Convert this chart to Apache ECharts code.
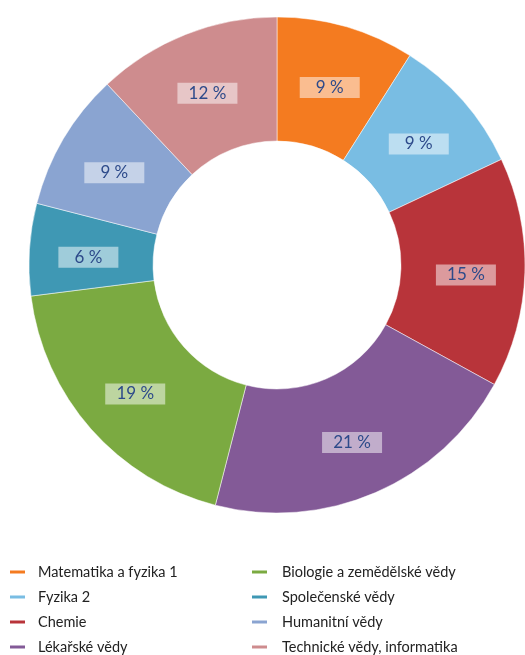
<!DOCTYPE html>
<html>
<head>
<meta charset="utf-8">
<script src="https://cdn.jsdelivr.net/npm/echarts@6/dist/echarts.min.js"></script>
<style>
  html, body { margin: 0; padding: 0; background: #fff; }
  #chart { width: 525px; height: 655px; }
</style>
</head>
<body>
<div id="chart"></div>
<script>
// obory a podíly (%)
const categories = [
  'Matematika a fyzika 1',
  'Fyzika 2',
  'Chemie',
  'Lékařské vědy',
  'Biologie a zemědělské vědy',
  'Společenské vědy',
  'Humanitní vědy',
  'Technické vědy, informatika'
];
const shares = [9, 9, 15, 21, 19, 6, 9, 12];
const colors = ['#f47b20', '#79bde3', '#b8343a', '#835a97', '#7baa41', '#3f98b4', '#8aa4d1', '#ce8c8e'];

const font = 'Lato, "DejaVu Sans", sans-serif';

function legendCol(left, top, names, textPad) {
  return {
    orient: 'vertical',
    left: left,
    top: top,
    height: 140,
    padding: 0,
    icon: 'rect',
    itemWidth: 15,
    itemHeight: 3,
    itemGap: 9,
    itemStyle: { borderWidth: 0 },
    textStyle: { fontFamily: font, fontSize: 14.5, color: '#222', lineHeight: 16, padding: [0, 0, 0, textPad] },
    selectedMode: false,
    data: names
  };
}

const chart = echarts.init(document.getElementById('chart'));
chart.setOption({
  animation: false,
  color: colors,
  legend: [
    legendCol(10, 564, categories.slice(0, 4), 8),
    legendCol(252, 564, categories.slice(4), 10)
  ],
  series: [{
    type: 'pie',
    center: [277, 265],
    radius: [124, 248],
    startAngle: 90,
    clockwise: true,
    avoidLabelOverlap: false,
    itemStyle: { borderColor: '#fff', borderWidth: 0.5 },
    label: {
      show: true,
      position: 'inside',
      formatter: p => p.value + ' %',
      fontFamily: font,
      fontSize: 17,
      color: '#2d4a8a',
      backgroundColor: 'rgba(255,255,255,0.5)',
      width: 60,
      height: 21,
      lineHeight: 21,
      align: 'center',
      offset: [0, 4]
    },
    labelLine: { show: false },
    emphasis: { disabled: true },
    data: categories.map((name, i) => ({ name: name, value: shares[i] }))
  }]
});
</script>
</body>
</html>
